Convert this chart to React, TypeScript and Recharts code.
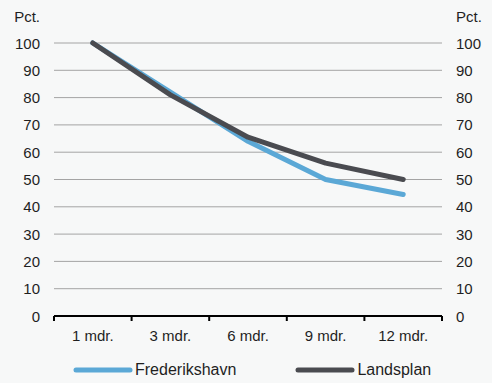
import React from "react";
import { LineChart, Line, XAxis, YAxis, CartesianGrid, Legend } from "recharts";

const categories = ["1 mdr.", "3 mdr.", "6 mdr.", "9 mdr.", "12 mdr."];
const frederikshavn = [100, 82, 64, 50, 44.5];
const landsplan = [100, 81, 65.5, 56, 50];
const yTicks = [0, 10, 20, 30, 40, 50, 60, 70, 80, 90, 100];
const seriesNames = ["Frederikshavn", "Landsplan"];
const seriesColors = ["#5ba8d6", "#4a4b50"];

const data = categories.map((c, i) => ({
  name: c,
  frederikshavn: frederikshavn[i],
  landsplan: landsplan[i],
}));

const W = 492;
const H = 383;
const PLOT_LEFT = 54;
const PLOT_RIGHT = 442;
const BAND = (PLOT_RIGHT - PLOT_LEFT) / categories.length;
const FONT = "'Liberation Sans', Arial, sans-serif";
const TEXT = "#1f1f1f";
const FS = 15;

const XTick = (props: any) => {
  const { x, y, payload, index } = props;
  return (
    <g>
      <line x1={x - BAND / 2} x2={x - BAND / 2} y1={y} y2={y + 5} stroke="#000" strokeWidth={2} />
      {index === categories.length - 1 && (
        <line x1={x + BAND / 2} x2={x + BAND / 2} y1={y} y2={y + 5} stroke="#000" strokeWidth={2} />
      )}
      <text x={x} y={y + 25} textAnchor="middle" style={{ fontSize: FS, fontFamily: FONT }} fill={TEXT}>
        {payload.value}
      </text>
    </g>
  );
};

const YTickLeft = (props: any) => {
  const { x, y, payload } = props;
  return (
    <text x={x} y={y + 5.5} textAnchor="end" style={{ fontSize: FS, fontFamily: FONT }} fill={TEXT}>
      {payload.value}
    </text>
  );
};
const YTickRight = (props: any) => {
  const { x, y, payload } = props;
  return (
    <text x={x} y={y + 5.5} textAnchor="start" style={{ fontSize: FS, fontFamily: FONT }} fill={TEXT}>
      {payload.value}
    </text>
  );
};

const LegendContent = () => (
  <div style={{ display: "flex", justifyContent: "flex-start", alignItems: "center", fontFamily: FONT, fontSize: 16, color: TEXT, paddingLeft: 73, lineHeight: "18px" }}>
    {seriesNames.map((n, i) => (
      <div key={n} style={{ display: "flex", alignItems: "center", marginLeft: i === 0 ? 0 : 59 }}>
        <svg width={60} height={10} style={{ marginRight: 2, display: "block" }}>
          <line x1={3} x2={57} y1={5} y2={5} stroke={seriesColors[i]} strokeWidth={5} strokeLinecap="round" />
        </svg>
        <span>{n}</span>
      </div>
    ))}
  </div>
);

const pctLabelLeft = (p: any) => {
  const vb = p.viewBox;
  return (
    <text x={vb.x + vb.width - 14} y={vb.y - 21} textAnchor="end" style={{ fontSize: FS, fontFamily: FONT }} fill={TEXT}>
      Pct.
    </text>
  );
};
const pctLabelRight = (p: any) => {
  const vb = p.viewBox;
  return (
    <text x={vb.x + 14} y={vb.y - 21} textAnchor="start" style={{ fontSize: FS, fontFamily: FONT }} fill={TEXT}>
      Pct.
    </text>
  );
};

export default function App() {
  return (
    <div style={{ position: "absolute", left: 0, top: 0, width: W, height: H, background: "#f7f8f8" }}>
      <LineChart width={W} height={H} data={data} margin={{ top: 43, right: 0, bottom: 37, left: 0 }}>
        <CartesianGrid horizontal vertical={false} stroke="#a4a4a4" yAxisId="left" />
        <XAxis
          dataKey="name"
          height={30}
          tickSize={0}
          tickMargin={0}
          tickLine={false}
          padding={{ left: BAND / 2, right: BAND / 2 }}
          axisLine={{ stroke: "#000", strokeWidth: 2 }}
          tick={<XTick />}
          interval={0}
        />
        <YAxis
          yAxisId="left"
          domain={[0, 100]}
          ticks={yTicks}
          width={54}
          axisLine={false}
          tickLine={false}
          tickSize={6}
          tickMargin={8}
          tick={<YTickLeft />}
          interval={0}
          label={{ content: pctLabelLeft }}
        />
        <YAxis
          yAxisId="right"
          orientation="right"
          domain={[0, 100]}
          ticks={yTicks}
          width={50}
          axisLine={false}
          tickLine={false}
          tickSize={6}
          tickMargin={8}
          tick={<YTickRight />}
          interval={0}
          label={{ content: pctLabelRight }}
        />
        <Line
          yAxisId="left"
          type="linear"
          dataKey="frederikshavn"
          name={seriesNames[0]}
          stroke={seriesColors[0]}
          strokeWidth={5}
          dot={false}
          activeDot={false}
          strokeLinecap="round"
          strokeLinejoin="round"
          isAnimationActive={false}
        />
        <Line
          yAxisId="right"
          type="linear"
          dataKey="landsplan"
          name={seriesNames[1]}
          stroke={seriesColors[1]}
          strokeWidth={5}
          dot={false}
          activeDot={false}
          strokeLinecap="round"
          strokeLinejoin="round"
          isAnimationActive={false}
        />
        <Legend
          verticalAlign="middle"
          align="center"
          layout="horizontal"
          content={<LegendContent />}
          wrapperStyle={{ position: "absolute", top: 361, left: 0, width: W }}
        />
      </LineChart>
    </div>
  );
}
